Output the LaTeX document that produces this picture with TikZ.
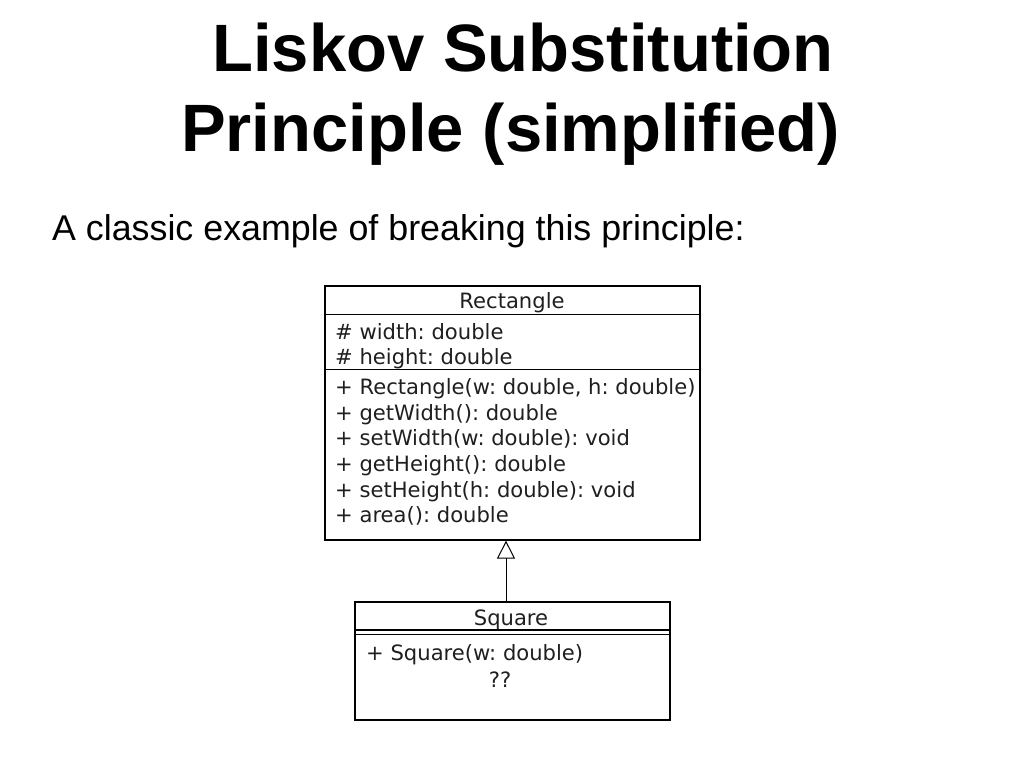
\documentclass[tikz,border=0pt]{standalone}
\usepackage{fontspec}
\setmainfont{Liberation Sans}
\newfontfamily\umlfont{DejaVu Sans}
\usetikzlibrary{arrows.meta}
\definecolor{umltext}{gray}{0.12}
\frenchspacing
\tikzset{
  px/.style={x=1pt,y=-1pt},
  titletext/.style={anchor=base west,inner sep=0pt,font=\bfseries\fontsize{67}{80}\selectfont},
  subtext/.style={anchor=base west,inner sep=0pt,font=\fontsize{35.8}{42}\selectfont},
  umlbox/.style={draw,line width=1.6pt,anchor=north west,inner sep=0pt},
  umlline/.style={line width=1.6pt},
  umllabel/.style={inner sep=0pt,text=umltext,font=\umlfont\fontsize{21.1}{25}\selectfont},
  umlleft/.style={umllabel,anchor=base west},
  umlcenter/.style={umllabel,anchor=base},
  inherit/.style={line width=1pt,-{Triangle[open,length=18pt,width=18pt,line width=1pt]}}
}
\begin{document}
\begin{tikzpicture}[px]
\useasboundingbox (0,0) rectangle (1024,768);
% titles
\node[titletext] (t1) at (212,71) {Liskov Substitution};
\node[titletext] (t2) at (181,151) {Principle (simplified)};
\node[subtext] (sub) at (52,240) {A classic example of breaking this principle:};
% Rectangle class
\node[umlbox,minimum width=375pt,minimum height=254pt] (rect) at (324,285) {};
\draw[umlline] (324,314.5) coordinate (r1a) -- (699,314.5) coordinate (r1b);
\draw[umlline] (324,369.5) coordinate (r2a) -- (699,369.5) coordinate (r2b);
\node[umlcenter] (rname) at (512,308) {Rectangle};
\node[umlleft] (a1) at (335,339) {\# width: double};
\node[umlleft] (a2) at (335,364) {\# height: double};
\node[umlleft] (m1) at (335,394) {+ Rectangle(w: double, h: double)};
\node[umlleft] (m2) at (335,420) {+ getWidth(): double};
\node[umlleft] (m3) at (335,445.5) {+ setWidth(w: double): void};
\node[umlleft] (m4) at (335,471) {+ getHeight(): double};
\node[umlleft] (m5) at (335,497) {+ setHeight(h: double): void};
\node[umlleft] (m6) at (335,522.5) {+ area(): double};
% Square class
\node[umlbox,minimum width=315pt,minimum height=118pt] (sq) at (354,601) {};
\draw[umlline] (354,630) coordinate (s1a) -- (669,630) coordinate (s1b);
\draw[line width=1pt] (354,634.5) coordinate (s2a) -- (669,634.5) coordinate (s2b);
\node[umlcenter] (sname) at (511,625) {Square};
\node[umlleft] (sm1) at (366,660) {+ Square(w: double)};
\node[umlcenter] (qq) at (500,687) {??};
% generalization
\draw[inherit] (sq.north -| 506,0) -- (rect.south -| 506,0);
\end{tikzpicture}
\end{document}
